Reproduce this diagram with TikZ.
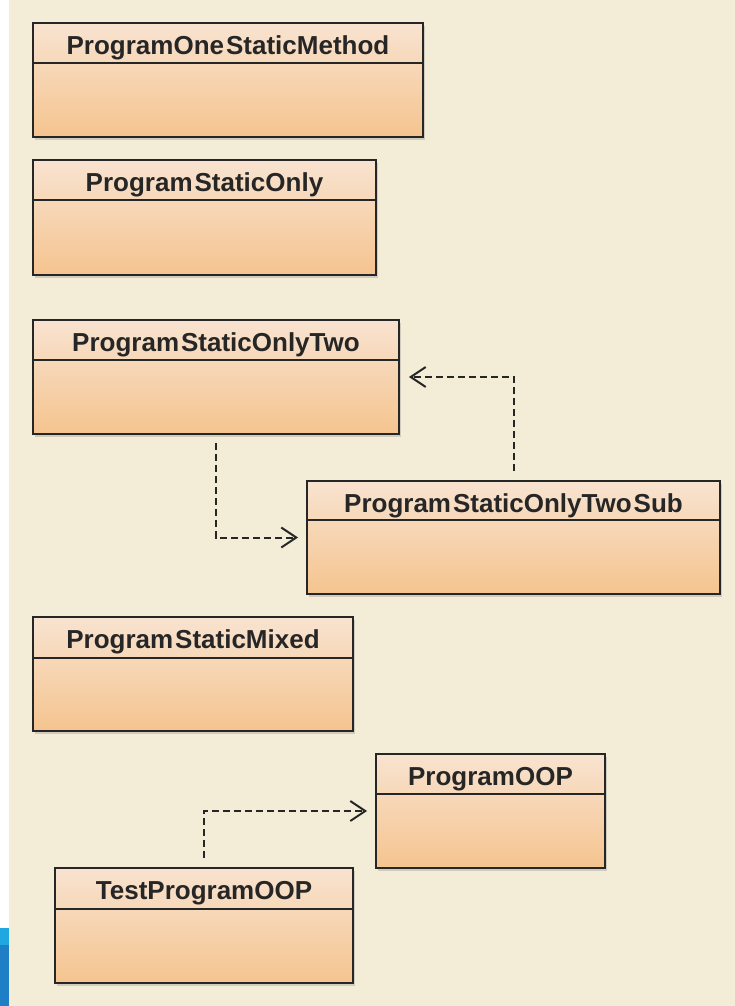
\documentclass[tikz,border=0pt]{standalone}
\usepackage{fontspec}
\setmainfont{Liberation Sans}
\usetikzlibrary{arrows.meta,shadows}

\definecolor{cream}{HTML}{F3ECD6}
\definecolor{peachtop}{HTML}{F8E3D0}
\definecolor{peachbot}{HTML}{F5C48F}
\definecolor{slideblue}{HTML}{1F7FC6}
\definecolor{slidecyan}{HTML}{20A6E0}

\begin{document}
\begin{tikzpicture}
[every node/.style={inner sep=0pt},
 classbox/.style={rectangle, draw=black!85, line width=1.8pt, top color=peachtop, bottom color=peachbot,
   drop shadow={opacity=0.3, shadow xshift=2pt, shadow yshift=-3pt}},
 classname/.style={anchor=base, text=black!85, font=\bfseries\fontsize{26}{30}\selectfont},
 rule/.style={line width=1.8pt, draw=black!85},
 dep/.style={line width=2pt, draw=black!85, dash pattern=on 7pt off 4pt,
   -{Straight Barb[length=15pt, width=20pt, line width=2pt]}}]
\useasboundingbox (0pt, 0pt) rectangle (735pt, -1006pt);
\fill [cream] (9pt, 0pt) rectangle (735pt, -1006pt);
\fill [slidecyan] (0pt, -928pt) rectangle (9pt, -945pt);
\fill [slideblue] (0pt, -945pt) rectangle (9pt, -1006pt);

\node (one) [classbox, minimum width=390pt, minimum height=114pt] at (228pt, -80pt) {};
\node (oneName) [classname] at ([yshift=-32pt]one.north) {ProgramOne\hspace{2pt}StaticMethod};
\draw [rule] ([yshift=-41pt]one.north west) -- ([yshift=-41pt]one.north east);

\node (only) [classbox, minimum width=343pt, minimum height=115pt] at (204.5pt, -217.5pt) {};
\node (onlyName) [classname] at ([yshift=-32pt]only.north) {Program\hspace{2pt}StaticOnly};
\draw [rule] ([yshift=-41pt]only.north west) -- ([yshift=-41pt]only.north east);

\node (two) [classbox, minimum width=366pt, minimum height=114pt] at (216pt, -377pt) {};
\node (twoName) [classname] at ([yshift=-32pt]two.north) {Program\hspace{2pt}StaticOnlyTwo};
\draw [rule] ([yshift=-41pt]two.north west) -- ([yshift=-41pt]two.north east);

\node (sub) [classbox, minimum width=413pt, minimum height=113pt] at (513.5pt, -537.5pt) {};
\node (subName) [classname] at ([yshift=-32pt]sub.north) {Program\hspace{2pt}StaticOnlyTwo\hspace{2pt}Sub};
\draw [rule] ([yshift=-40pt]sub.north west) -- ([yshift=-40pt]sub.north east);

\node (mixed) [classbox, minimum width=320pt, minimum height=114pt] at (193pt, -674pt) {};
\node (mixedName) [classname] at ([yshift=-32pt]mixed.north) {Program\hspace{2pt}StaticMixed};
\draw [rule] ([yshift=-42pt]mixed.north west) -- ([yshift=-42pt]mixed.north east);

\node (oop) [classbox, minimum width=229pt, minimum height=114pt] at (490.5pt, -811pt) {};
\node (oopName) [classname] at ([yshift=-32pt]oop.north) {ProgramOOP};
\draw [rule] ([yshift=-41pt]oop.north west) -- ([yshift=-41pt]oop.north east);

\node (test) [classbox, minimum width=298pt, minimum height=115pt] at (204pt, -925.5pt) {};
\node (testName) [classname] at ([yshift=-32pt]test.north) {TestProgramOOP};
\draw [rule] ([yshift=-42pt]test.north west) -- ([yshift=-42pt]test.north east);

% dependencies
\draw [dep, shorten <=9pt, shorten >=9pt] (sub.north) |- (two.east);
\draw [dep, shorten <=8pt, shorten >=8pt] (two.south) |- (sub.west);
\draw [dep, shorten <=9pt, shorten >=8pt] (test.north) |- (oop.west);
\end{tikzpicture}
\end{document}
